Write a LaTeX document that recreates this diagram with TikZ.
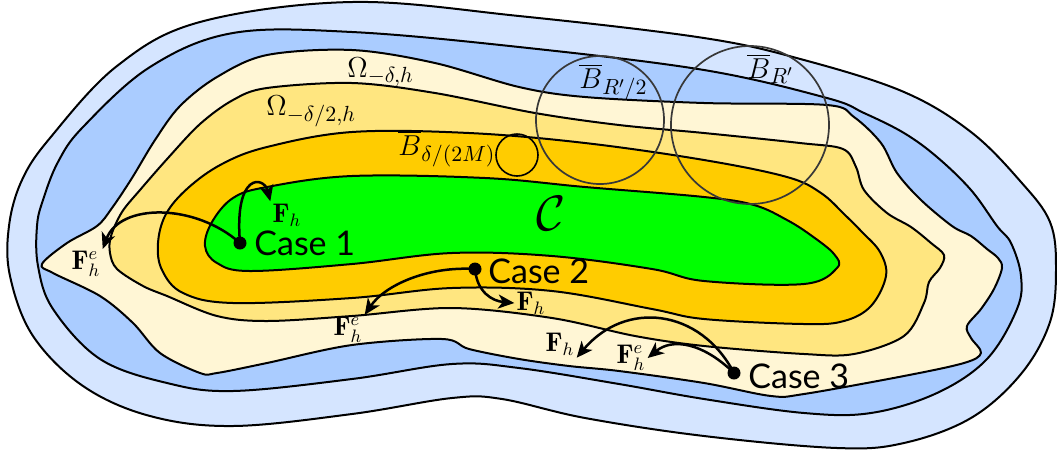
\documentclass[tikz,border=0pt]{standalone}
\usepackage{fontspec}
\newfontfamily\casefont{Lato}
\usetikzlibrary{arrows.meta}
\definecolor{lblue}{HTML}{D5E5FF}
\definecolor{mblue}{HTML}{AACCFF}
\definecolor{cream}{HTML}{FFF6D5}
\definecolor{lyellow}{HTML}{FFE680}
\definecolor{dorange}{HTML}{FFCC00}
\definecolor{lgreen}{HTML}{00FF00}
\begin{document}
\begin{tikzpicture}[x=0.5pt,y=-0.5pt,
  region/.style={draw=black, line width=1pt, line join=round},
  ball/.style={circle, draw=black!78, line width=0.85pt, inner sep=0pt},
  dot/.style={circle, fill=black, inner sep=0pt, minimum size=6.5pt},
  casetext/.style={font=\casefont\fontsize{17}{19}\selectfont, inner sep=0pt},
  mlabel/.style={font=\fontsize{15.5}{18}\selectfont, inner sep=0pt},
  flabel/.style={font=\fontsize{13.5}{15}\selectfont, inner sep=1pt},
  arr/.style={line width=1.25pt, -{Stealth[length=8pt,width=7pt,inset=2.2pt]}}]
\useasboundingbox (0,0) rectangle (1057,452);

% outer region
\filldraw[region, fill=lblue] plot[smooth cycle, tension=0.6] coordinates {
(352,2) (519,16) (704,38) (804,60) (904,92) (971,132) (1021,182) (1050,222) (1056,268) (1050,322) (1021,374) (971,418) (904,443) (837,448) (704,436) (585,418) (502,399) (452,398) (352,414) (233,426) (150,416) (83,386) (33,336) (10,276) (9,226) (22,180) (50,138) (117,66) (200,22)};

% second region
\filldraw[region, fill=mblue] plot[smooth cycle, tension=0.6] coordinates {
(352,32) (519,47) (704,70) (827,98) (864,113) (904,133) (937,157) (971,190) (997,226) (1011,243) (1021,276) (1017,309) (987,359) (937,393) (871,413) (804,413) (704,399) (619,384) (519,368) (452,364) (352,379) (233,391) (167,383) (100,359) (53,309) (38,266) (37,226) (43,200) (58,162) (83,127) (150,67) (233,33)};

% Omega_{-delta,h}
\filldraw[region, fill=cream] plot[smooth cycle, tension=0.55] coordinates {
(352,50) (435,63) (519,87) (585,97) (704,103) (827,105) (854,117) (881,143) (897,173) (921,200) (952,226) (971,236) (987,249) (998,258) (1002,268) (994,289) (981,309) (967,326) (971,338) (981,353) (964,363) (904,376) (804,394) (771,396) (704,383) (619,371) (569,366) (519,359) (469,349) (442,339) (352,345) (267,363) (217,373) (200,373) (160,353) (133,323) (100,296) (53,273) (42,264) (67,243) (97,226) (112,208) (132,178) (155,140) (180,106) (217,77) (267,55)};

% Omega_{-delta/2,h}
\filldraw[region, fill=lyellow] plot[smooth cycle, tension=0.55] coordinates {
(352,83) (435,93) (535,113) (619,125) (704,133) (800,143) (843,149) (856,167) (864,190) (887,213) (911,227) (931,243) (944,255) (940,268) (929,282) (924,303) (904,336) (854,354) (804,354) (704,346) (635,336) (552,318) (452,308) (352,316) (267,321) (217,316) (167,296) (143,286) (117,269) (110,253) (111,236) (122,212) (140,190) (168,158) (200,124) (233,100) (267,88)};

% orange
\filldraw[region, fill=dorange] plot[smooth cycle, tension=0.6] coordinates {
(352,132) (469,133) (585,143) (704,160) (787,177) (821,193) (845,215) (862,232) (880,252) (886,276) (871,306) (844,321) (804,324) (704,319) (652,309) (552,291) (452,288) (352,298) (233,303) (183,293) (162,270) (158,243) (166,214) (188,188) (222,164) (267,147)};

% green C
\filldraw[region, fill=lgreen] plot[smooth cycle, tension=0.6] coordinates {
(352,176) (485,178) (585,187) (704,197) (754,205) (787,220) (812,236) (834,254) (837,268) (804,284) (704,281) (652,269) (552,256) (452,253) (352,264) (250,271) (217,263) (205,246) (212,222) (233,198) (267,187)};

% balls
\node[circle, draw=black, line width=0.8pt, inner sep=0pt, minimum size=21pt] (bsmall) at (517,155) {};
\node[ball, minimum size=64pt] (bhalf) at (600,120) {};
\node[ball, minimum size=79pt] (bfull) at (750,125) {};

% labels
\node[mlabel, anchor=base west] (om1) at (347,77) {$\Omega_{-\delta,h}$};
\node[mlabel, anchor=base west] (om2) at (266,115) {$\Omega_{-\delta/2,h}$};
\node[mlabel, anchor=base west] (lbsmall) at (398,155) {$\overline{B}_{\delta/(2M)}$};
\node[mlabel, anchor=base west] (lbhalf) at (579,88) {$\overline{B}_{R'/2}$};
\node[mlabel, anchor=base west] (lbfull) at (747,78) {$\overline{B}_{R'}$};
\node[font=\fontsize{44}{48}\selectfont, inner sep=0pt] (calC) at (551,213) {$\mathcal{C}$};

% force labels
\node[flabel] (fh1) at (287,215) {$\mathbf{F}_h$};
\node[flabel] (fhe1) at (86,264) {$\mathbf{F}_h^e$};
\node[flabel] (fhe2) at (348,330) {$\mathbf{F}_h^e$};
\node[flabel] (fh2) at (531,303) {$\mathbf{F}_h$};
\node[flabel] (fh3) at (560,344) {$\mathbf{F}_h$};
\node[flabel] (fhe3) at (631,358) {$\mathbf{F}_h^e$};

% case points
\coordinate (p1) at (240,243);
\coordinate (p2) at (475,269);
\coordinate (p3) at (734,373);

% arrows
\draw[arr] (p1) .. controls (234,172) and (264,176) .. (fh1.north west);
\draw[arr] (p1) .. controls (195,203) and (120,203) .. (fhe1.north east);
\draw[arr] (p2) .. controls (428,266) and (385,285) .. (fhe2.north east);
\draw[arr] (p2) .. controls (477,292) and (492,301) .. (fh2.west);
\draw[arr] (p3) .. controls (700,308) and (625,300) .. (fh3.south east);
\draw[arr] (p3) .. controls (702,342) and (672,338) .. (fhe3.east);

\node[dot] (d1) at (p1) {};
\node[dot] (d2) at (p2) {};
\node[dot] (d3) at (p3) {};
\node[casetext, anchor=base west] (c1) at (254,255) {Case 1};
\node[casetext, anchor=base west] (c2) at (488,283) {Case 2};
\node[casetext, anchor=base west] (c3) at (748,388) {Case 3};
\end{tikzpicture}
\end{document}
